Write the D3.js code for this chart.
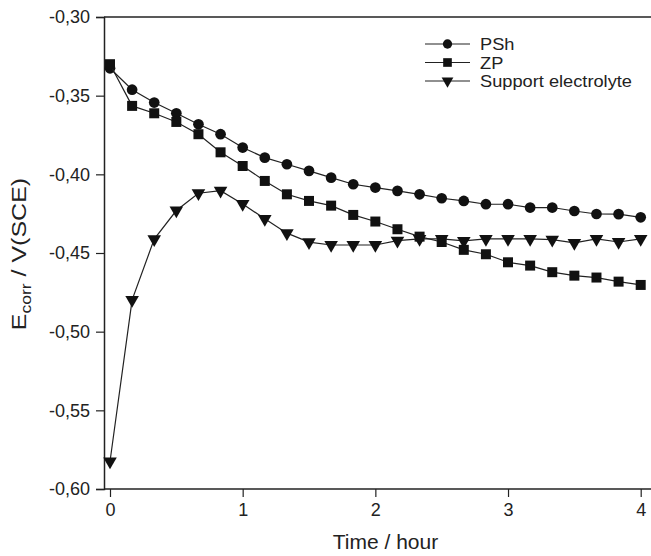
<!DOCTYPE html>
<html>
<head>
<meta charset="utf-8">
<script src="https://cdn.jsdelivr.net/npm/d3@7"></script>
<style>
  html, body { margin: 0; padding: 0; background: #fff; }
  svg { display: block; font-family: "Liberation Sans", Arial, sans-serif; }
</style>
</head>
<body>
<svg id="chart" width="651" height="556"></svg>
<script>
// Time in hours (every 10 minutes)
const time = [0, 1/6, 2/6, 3/6, 4/6, 5/6, 1, 7/6, 8/6, 9/6, 10/6, 11/6, 2,
              13/6, 14/6, 15/6, 16/6, 17/6, 3, 19/6, 20/6, 21/6, 22/6, 23/6, 4];

const psh = [-0.3326, -0.3462, -0.3544, -0.3612, -0.3682, -0.3745, -0.3830, -0.3894, -0.3936,
             -0.3978, -0.4021, -0.4063, -0.4084, -0.4105, -0.4127, -0.4152, -0.4169, -0.4190,
             -0.4190, -0.4211, -0.4211, -0.4233, -0.4252, -0.4253, -0.4273];

const zp = [-0.3300, -0.3565, -0.3612, -0.3667, -0.3745, -0.3860, -0.3947, -0.4042, -0.4127,
            -0.4169, -0.4199, -0.4258, -0.4300, -0.4349, -0.4396, -0.4430, -0.4480, -0.4508,
            -0.4559, -0.4580, -0.4622, -0.4644, -0.4656, -0.4682, -0.4703];

const support = [-0.5825, -0.4798, -0.4412, -0.4230, -0.4120, -0.4104, -0.4188, -0.4283, -0.4374,
                 -0.4431, -0.4449, -0.4449, -0.4449, -0.4421, -0.4410, -0.4410, -0.4423, -0.4410,
                 -0.4410, -0.4410, -0.4415, -0.4436, -0.4410, -0.4430, -0.4410];

const seriesNames = ["PSh", "ZP", "Support electrolyte"];
const seriesSymbols = ["circle", "square", "triangle"];
const xTicks = [0, 1, 2, 3, 4];
const yTicks = [-0.30, -0.35, -0.40, -0.45, -0.50, -0.55, -0.60];

const svg = d3.select("#chart");
const mLeft = 104, mRight = 651, mTop = 17, mBottom = 489;
const ink = "#222";

const x = d3.scaleLinear().domain([0, 4]).range([110, 640.7]);
const y = d3.scaleLinear().domain([-0.60, -0.30]).range([mBottom, mTop]);

// Top frame line
svg.append("line").attr("x1", mLeft).attr("x2", mRight).attr("y1", mTop).attr("y2", mTop)
  .attr("stroke", ink).attr("stroke-width", 1.5);

// Y axis
const yAxis = d3.axisLeft(y).tickValues(yTicks).tickSize(8).tickPadding(6)
  .tickFormat(d => d3.format(".2f")(d).replace(".", ",").replace("−", "-"));
const gy = svg.append("g").attr("transform", `translate(${mLeft},0)`).call(yAxis);
gy.select(".domain").attr("stroke", ink).attr("stroke-width", 1.5);
gy.selectAll(".tick line").attr("stroke", ink).attr("stroke-width", 1.2);
gy.selectAll(".tick text").attr("fill", ink).attr("font-size", 18)
  .attr("font-family", "Liberation Sans, Arial, sans-serif");

// X axis
const xAxis = d3.axisBottom(x).tickValues(xTicks).tickSize(8).tickPadding(6).tickFormat(d3.format("d"));
const gx = svg.append("g").attr("transform", `translate(0,${mBottom})`).call(xAxis);
gx.select(".domain").remove();
gx.append("line").attr("x1", mLeft).attr("x2", mRight).attr("y1", 0).attr("y2", 0)
  .attr("stroke", ink).attr("stroke-width", 1.5);
gx.selectAll(".tick line").attr("stroke", ink).attr("stroke-width", 1.2);
gx.selectAll(".tick text").attr("fill", ink).attr("font-size", 18)
  .attr("font-family", "Liberation Sans, Arial, sans-serif");

// Axis titles
svg.append("text").attr("x", 385.5).attr("y", 549).attr("text-anchor", "middle")
  .attr("font-size", 21).attr("fill", ink).text("Time / hour");

const yt = svg.append("text").attr("transform", "translate(26,254) rotate(-90) scale(1.25,1)")
  .attr("text-anchor", "middle").attr("font-size", 20).attr("fill", ink);
yt.append("tspan").text("E");
yt.append("tspan").attr("font-size", 14).attr("dy", 5).text("corr");
yt.append("tspan").attr("dy", -5).text(" / V(SCE)");

// Series
const allSeries = [psh, zp, support];
const symbolTypes = { circle: d3.symbolCircle, square: d3.symbolSquare, triangle: d3.symbolTriangle };
const symbolSizes = { circle: 90, square: 100, triangle: 80 };

const line = d3.line().x(d => x(d[0])).y(d => y(d[1]));

allSeries.forEach((vals, i) => {
  const pts = time.map((t, k) => [t, vals[k]]);
  svg.append("path").datum(pts).attr("d", line)
    .attr("fill", "none").attr("stroke", ink).attr("stroke-width", 1.2);
  const sym = d3.symbol().type(symbolTypes[seriesSymbols[i]]).size(symbolSizes[seriesSymbols[i]]);
  svg.append("g").selectAll("path").data(pts).join("path")
    .attr("d", sym)
    .attr("transform", d => `translate(${x(d[0])},${y(d[1])})` + (seriesSymbols[i] === "triangle" ? " rotate(180)" : ""))
    .attr("fill", "#111");
});

// Legend
const legY = [44, 62.5, 81];
seriesNames.forEach((name, i) => {
  const g = svg.append("g").attr("transform", `translate(0,${legY[i]})`);
  g.append("line").attr("x1", 425).attr("x2", 470).attr("y1", 0).attr("y2", 0)
    .attr("stroke", ink).attr("stroke-width", 1.2);
  const sym = d3.symbol().type(symbolTypes[seriesSymbols[i]]).size(symbolSizes[seriesSymbols[i]] * 0.75);
  g.append("path").attr("d", sym)
    .attr("transform", `translate(447.5,0)` + (seriesSymbols[i] === "triangle" ? " rotate(180)" : ""))
    .attr("fill", "#111");
  g.append("text").attr("transform", "translate(480,6) scale(1.14,1)")
    .attr("font-size", 16).attr("fill", ink).text(name);
});
</script>
</body>
</html>
